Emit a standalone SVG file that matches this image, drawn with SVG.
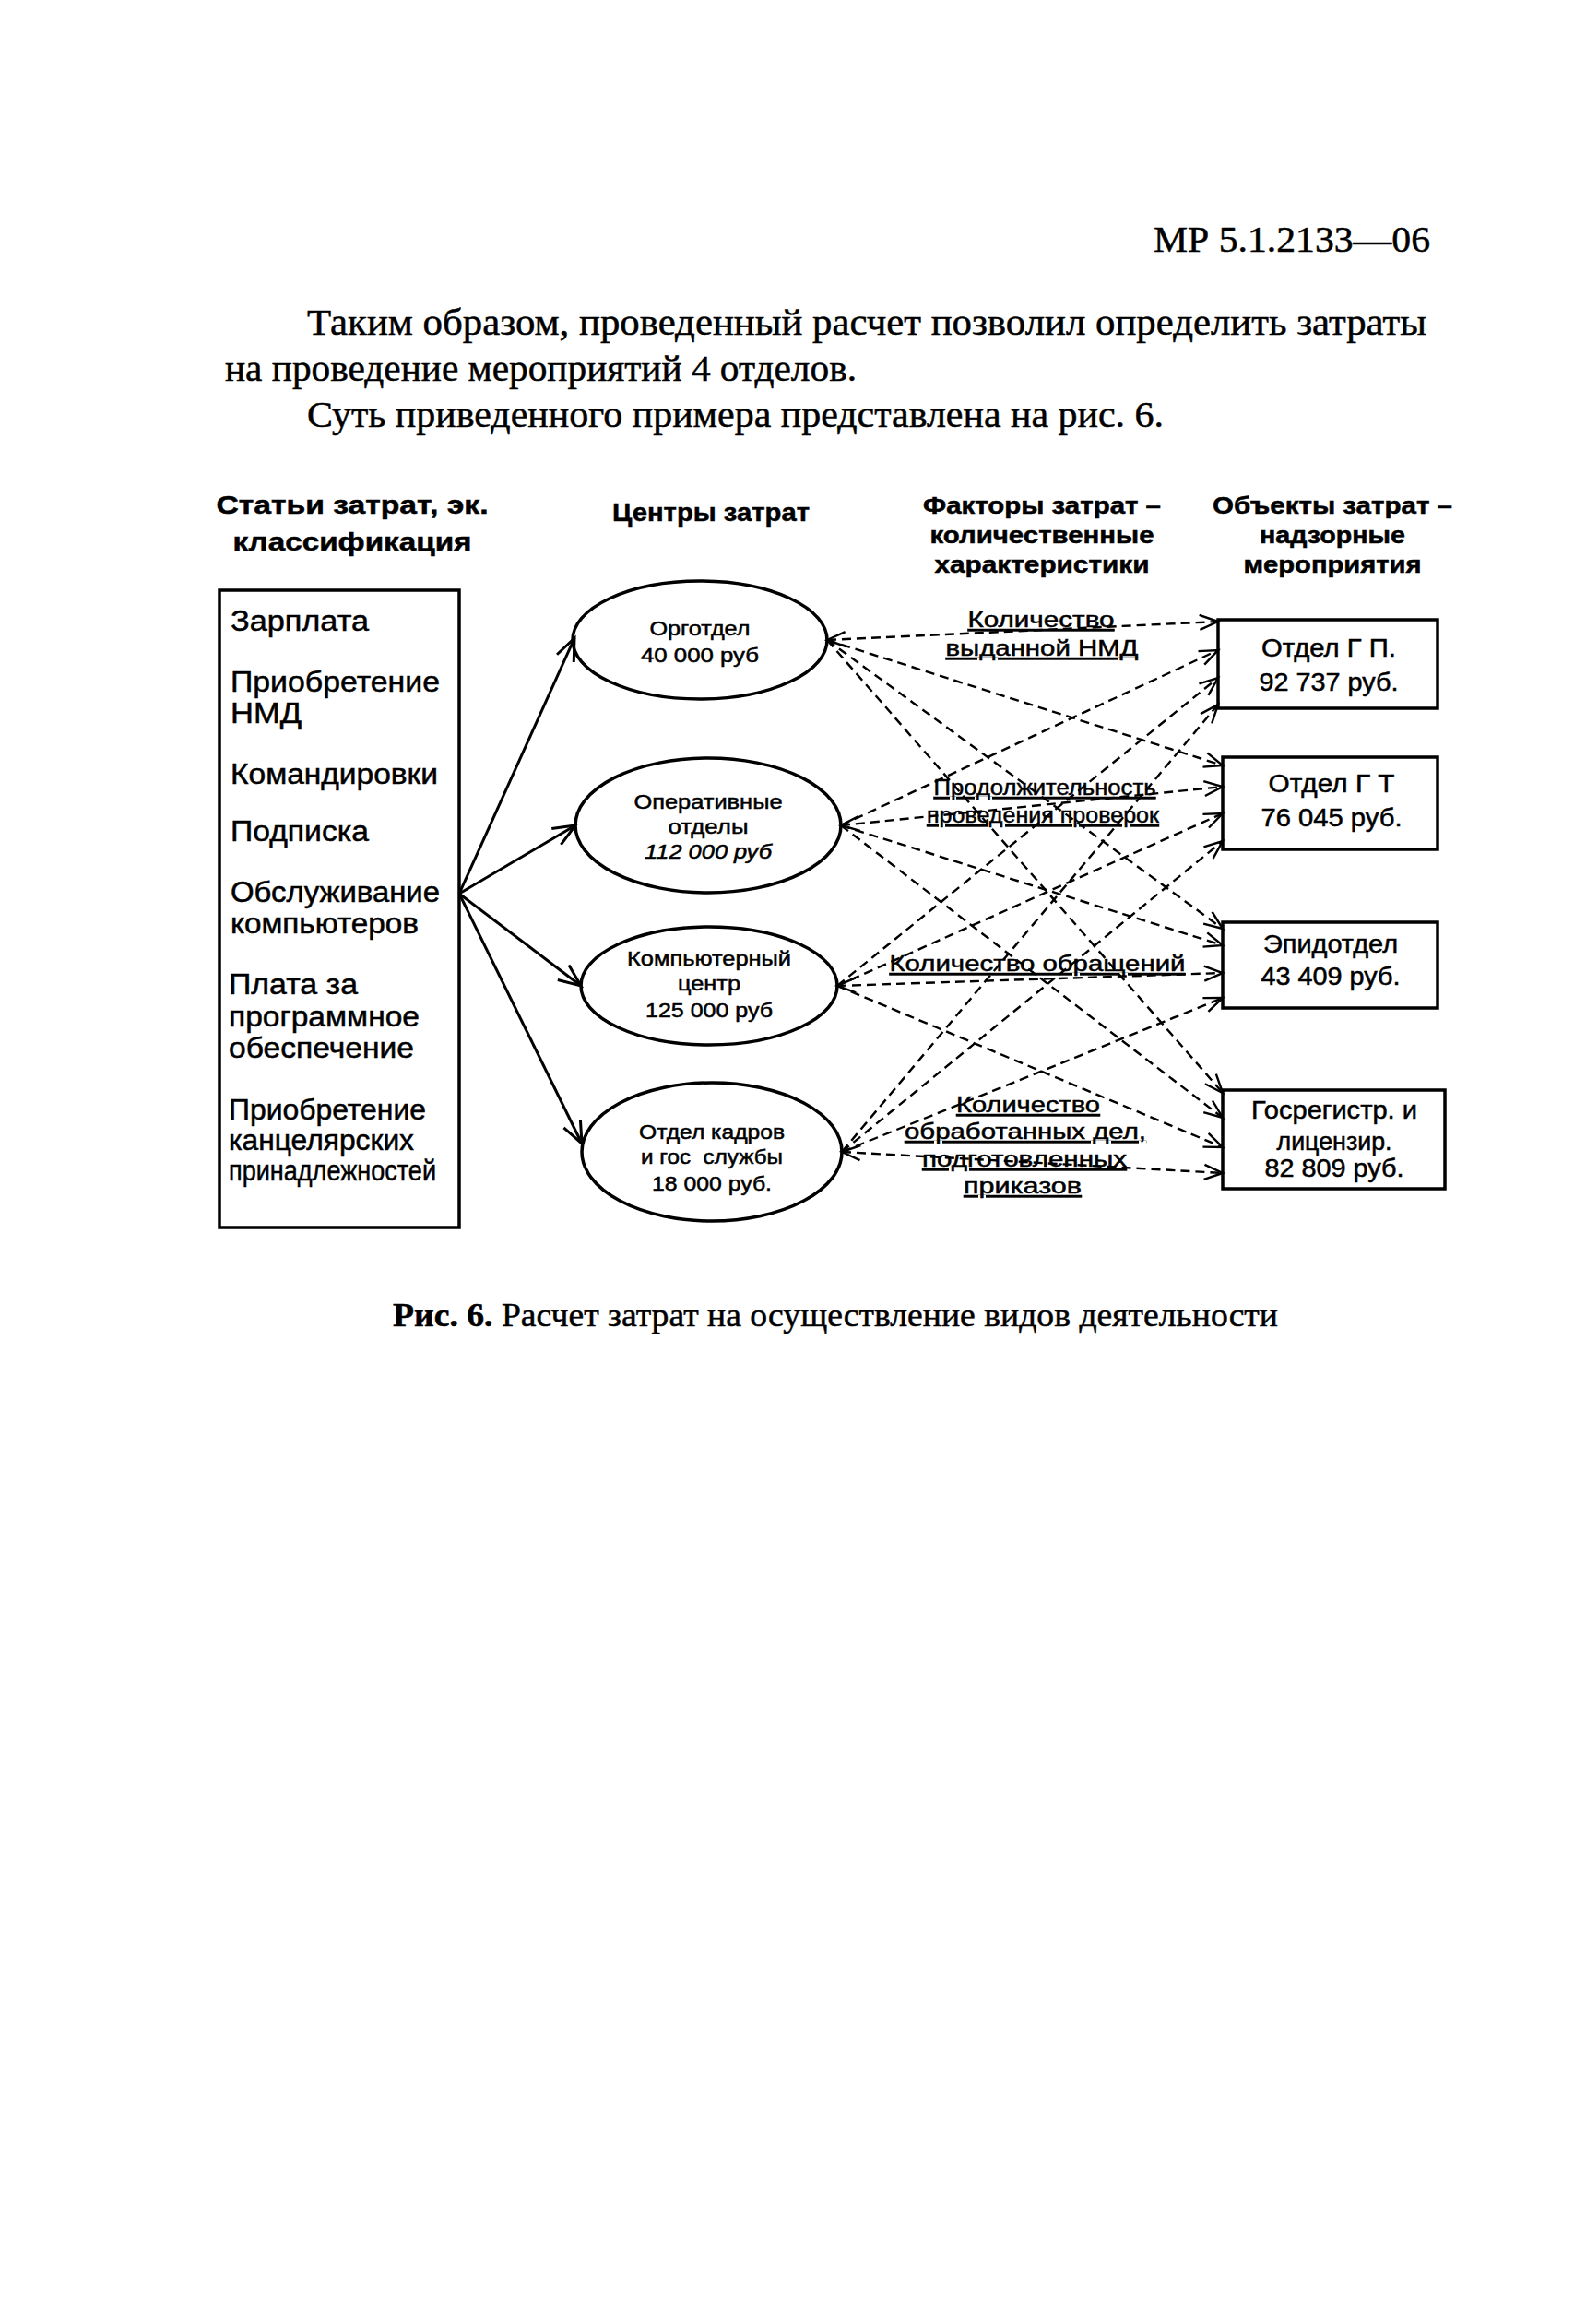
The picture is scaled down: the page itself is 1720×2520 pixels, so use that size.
<svg xmlns="http://www.w3.org/2000/svg" width="1720" height="2520" viewBox="0 0 1720 2520">
<style>
.serif{font-family:"Liberation Serif","Times New Roman",serif;fill:#000;stroke:#000;stroke-width:0.5}
.sans{font-family:"Liberation Sans",Arial,sans-serif;fill:#000}
.sans text{stroke:#000;stroke-width:0.5}
.hd{font-weight:bold;font-size:27px;text-anchor:middle}
.hd2{font-weight:bold;font-size:25px;text-anchor:middle}
.item{font-size:31px}
.ell{font-size:22px;text-anchor:middle}
.box{font-size:27px;text-anchor:middle}
.fac{font-size:24px;text-anchor:middle;text-decoration:underline}
.shape{fill:#fff;stroke:#000;stroke-width:3.5}
.solid{fill:none;stroke:#000;stroke-width:3;marker-end:url(#arrS)}
.dash{fill:none;stroke:#000;stroke-width:2.4;stroke-dasharray:10 6;marker-end:url(#arrD)}
.both{marker-start:url(#arrD)}
</style>
<defs>
<marker id="arrS" markerUnits="userSpaceOnUse" markerWidth="28" markerHeight="22" refX="24" refY="10" orient="auto" overflow="visible">
<path d="M0,0 L24,10 L0,20" fill="none" stroke="#000" stroke-width="3"/>
</marker>
<marker id="arrD" markerUnits="userSpaceOnUse" markerWidth="24" markerHeight="18" refX="20" refY="8" orient="auto-start-reverse" overflow="visible">
<path d="M0,0 L20,8 L0,16" fill="none" stroke="#000" stroke-width="2.4"/>
</marker>
</defs>
<rect width="1720" height="2520" fill="#fff"/>

<g id="page-text" class="serif">
<text x="1551" y="273" font-size="40" text-anchor="end" textLength="300" lengthAdjust="spacingAndGlyphs">МР 5.1.2133—06</text>
<text x="333" y="363" font-size="40" textLength="1214" lengthAdjust="spacingAndGlyphs">Таким образом, проведенный расчет позволил определить затраты</text>
<text x="244" y="413" font-size="40" textLength="685" lengthAdjust="spacingAndGlyphs">на проведение мероприятий 4 отделов.</text>
<text x="333" y="463" font-size="40" textLength="929" lengthAdjust="spacingAndGlyphs">Суть приведенного примера представлена на рис. 6.</text>
<text x="426" y="1438" font-size="36" textLength="960" lengthAdjust="spacingAndGlyphs"><tspan font-weight="bold">Рис. 6.</tspan> Расчет затрат на осуществление видов деятельности</text>
</g>

<g id="headings" class="sans">
<text class="hd" x="382" y="557" textLength="295" lengthAdjust="spacingAndGlyphs">Статьи затрат, эк.</text>
<text class="hd" x="382" y="597" textLength="259" lengthAdjust="spacingAndGlyphs">классификация</text>
<text class="hd" x="771" y="565" textLength="214" lengthAdjust="spacingAndGlyphs">Центры затрат</text>
<text class="hd2" x="1130" y="557" textLength="258" lengthAdjust="spacingAndGlyphs">Факторы затрат –</text>
<text class="hd2" x="1130" y="589" textLength="243" lengthAdjust="spacingAndGlyphs">количественные</text>
<text class="hd2" x="1130" y="621" textLength="233" lengthAdjust="spacingAndGlyphs">характеристики</text>
<text class="hd2" x="1445" y="557" textLength="260" lengthAdjust="spacingAndGlyphs">Объекты затрат –</text>
<text class="hd2" x="1445" y="589" textLength="158" lengthAdjust="spacingAndGlyphs">надзорные</text>
<text class="hd2" x="1445" y="621" textLength="193" lengthAdjust="spacingAndGlyphs">мероприятия</text>
</g>

<g id="cost-items" class="sans">
<rect class="shape" x="238" y="640" width="260" height="691"/>
<text class="item" x="250" y="684" textLength="150" lengthAdjust="spacingAndGlyphs">Зарплата</text>
<text class="item" x="250" y="750" textLength="227" lengthAdjust="spacingAndGlyphs">Приобретение</text>
<text class="item" x="250" y="784" textLength="77" lengthAdjust="spacingAndGlyphs">НМД</text>
<text class="item" x="250" y="850" textLength="225" lengthAdjust="spacingAndGlyphs">Командировки</text>
<text class="item" x="250" y="912" textLength="150" lengthAdjust="spacingAndGlyphs">Подписка</text>
<text class="item" x="250" y="978" textLength="227" lengthAdjust="spacingAndGlyphs">Обслуживание</text>
<text class="item" x="250" y="1012" textLength="204" lengthAdjust="spacingAndGlyphs">компьютеров</text>
<text class="item" x="248" y="1078" textLength="140" lengthAdjust="spacingAndGlyphs">Плата за</text>
<text class="item" x="248" y="1113" textLength="207" lengthAdjust="spacingAndGlyphs">программное</text>
<text class="item" x="248" y="1147" textLength="201" lengthAdjust="spacingAndGlyphs">обеспечение</text>
<text class="item" x="248" y="1214" textLength="214" lengthAdjust="spacingAndGlyphs">Приобретение</text>
<text class="item" x="248" y="1247" textLength="201" lengthAdjust="spacingAndGlyphs">канцелярских</text>
<text class="item" x="248" y="1280" textLength="225" lengthAdjust="spacingAndGlyphs">принадлежностей</text>
</g>

<g id="center-orgotdel" class="sans">
<ellipse class="shape" cx="759" cy="694" rx="138" ry="64"/>
<text class="ell" x="759" y="689" textLength="109" lengthAdjust="spacingAndGlyphs">Орготдел</text>
<text class="ell" x="759" y="718" textLength="128" lengthAdjust="spacingAndGlyphs">40 000 руб</text>
</g>
<g id="center-operative" class="sans">
<ellipse class="shape" cx="768" cy="895" rx="144" ry="73"/>
<text class="ell" x="768" y="877" textLength="161" lengthAdjust="spacingAndGlyphs">Оперативные</text>
<text class="ell" x="768" y="904" textLength="87" lengthAdjust="spacingAndGlyphs">отделы</text>
<text class="ell" x="768" y="931" font-style="italic" textLength="138" lengthAdjust="spacingAndGlyphs">112 000 руб</text>
</g>
<g id="center-computer" class="sans">
<ellipse class="shape" cx="769" cy="1069" rx="139" ry="64"/>
<text class="ell" x="769" y="1047" textLength="178" lengthAdjust="spacingAndGlyphs">Компьютерный</text>
<text class="ell" x="769" y="1074" textLength="68" lengthAdjust="spacingAndGlyphs">центр</text>
<text class="ell" x="769" y="1103" textLength="138" lengthAdjust="spacingAndGlyphs">125 000 руб</text>
</g>
<g id="center-hr" class="sans">
<ellipse class="shape" cx="772" cy="1249" rx="141" ry="75"/>
<text class="ell" x="772" y="1235" textLength="158" lengthAdjust="spacingAndGlyphs">Отдел кадров</text>
<text class="ell" x="772" y="1262" textLength="154" lengthAdjust="spacingAndGlyphs" xml:space="preserve">и гос  службы</text>
<text class="ell" x="772" y="1291" textLength="130" lengthAdjust="spacingAndGlyphs">18 000 руб.</text>
</g>

<g id="obj-gp" class="sans">
<rect class="shape" x="1321" y="672" width="238" height="96"/>
<text class="box" x="1441" y="712" textLength="146" lengthAdjust="spacingAndGlyphs">Отдел Г П.</text>
<text class="box" x="1441" y="749" textLength="151" lengthAdjust="spacingAndGlyphs">92 737 руб.</text>
</g>
<g id="obj-gt" class="sans">
<rect class="shape" x="1326" y="821" width="233" height="100"/>
<text class="box" x="1444" y="859" textLength="137" lengthAdjust="spacingAndGlyphs">Отдел Г Т</text>
<text class="box" x="1444" y="896" textLength="153" lengthAdjust="spacingAndGlyphs">76 045 руб.</text>
</g>
<g id="obj-epid" class="sans">
<rect class="shape" x="1326" y="1000" width="233" height="93"/>
<text class="box" x="1443" y="1033" textLength="146" lengthAdjust="spacingAndGlyphs">Эпидотдел</text>
<text class="box" x="1443" y="1068" textLength="151" lengthAdjust="spacingAndGlyphs">43 409 руб.</text>
</g>
<g id="obj-reg" class="sans">
<rect class="shape" x="1326" y="1182" width="241" height="107"/>
<text class="box" x="1447" y="1213" textLength="180" lengthAdjust="spacingAndGlyphs">Госрегистр. и</text>
<text class="box" x="1447" y="1247" textLength="125" lengthAdjust="spacingAndGlyphs">лицензир.</text>
<text class="box" x="1447" y="1276" textLength="151" lengthAdjust="spacingAndGlyphs">82 809 руб.</text>
</g>

<g id="factors" class="sans">
<text class="fac" x="1129" y="680" textLength="159" lengthAdjust="spacingAndGlyphs">Количество</text>
<text class="fac" x="1130" y="711" textLength="209" lengthAdjust="spacingAndGlyphs">выданной НМД</text>
<text class="fac" x="1133" y="862" textLength="241" lengthAdjust="spacingAndGlyphs">Продолжительность</text>
<text class="fac" x="1131" y="892" textLength="252" lengthAdjust="spacingAndGlyphs">проведения проверок</text>
<text class="fac" x="1125" y="1053" textLength="321" lengthAdjust="spacingAndGlyphs">Количество обращений</text>
<text class="fac" x="1115" y="1206" textLength="156" lengthAdjust="spacingAndGlyphs">Количество</text>
<text class="fac" x="1112" y="1235" textLength="262" lengthAdjust="spacingAndGlyphs">обработанных дел,</text>
<text class="fac" x="1111" y="1265" textLength="222" lengthAdjust="spacingAndGlyphs">подготовленных</text>
<text class="fac" x="1109" y="1294" textLength="128" lengthAdjust="spacingAndGlyphs">приказов</text>
</g>

<g id="connectors">
<line class="solid" x1="498" y1="969" x2="623" y2="692"/>
<line class="solid" x1="498" y1="969" x2="624" y2="895"/>
<line class="solid" x1="498" y1="969" x2="630" y2="1069"/>
<line class="solid" x1="498" y1="969" x2="631" y2="1240"/>

<line class="dash both" x1="897" y1="694" x2="1321" y2="674"/>
<line class="dash" x1="897" y1="694" x2="1326" y2="830"/>
<line class="dash" x1="897" y1="694" x2="1326" y2="1007"/>
<line class="dash" x1="897" y1="694" x2="1326" y2="1185"/>

<line class="dash" x1="912" y1="895" x2="1321" y2="705"/>
<line class="dash both" x1="912" y1="895" x2="1326" y2="853"/>
<line class="dash" x1="912" y1="895" x2="1326" y2="1025"/>
<line class="dash" x1="912" y1="895" x2="1326" y2="1212"/>

<line class="dash" x1="908" y1="1069" x2="1321" y2="735"/>
<line class="dash" x1="908" y1="1069" x2="1326" y2="882"/>
<line class="dash both" x1="908" y1="1069" x2="1326" y2="1055"/>
<line class="dash" x1="908" y1="1069" x2="1326" y2="1244"/>

<line class="dash" x1="913" y1="1249" x2="1321" y2="764"/>
<line class="dash" x1="913" y1="1249" x2="1326" y2="912"/>
<line class="dash" x1="913" y1="1249" x2="1326" y2="1082"/>
<line class="dash both" x1="913" y1="1249" x2="1326" y2="1272"/>
</g>
</svg>
